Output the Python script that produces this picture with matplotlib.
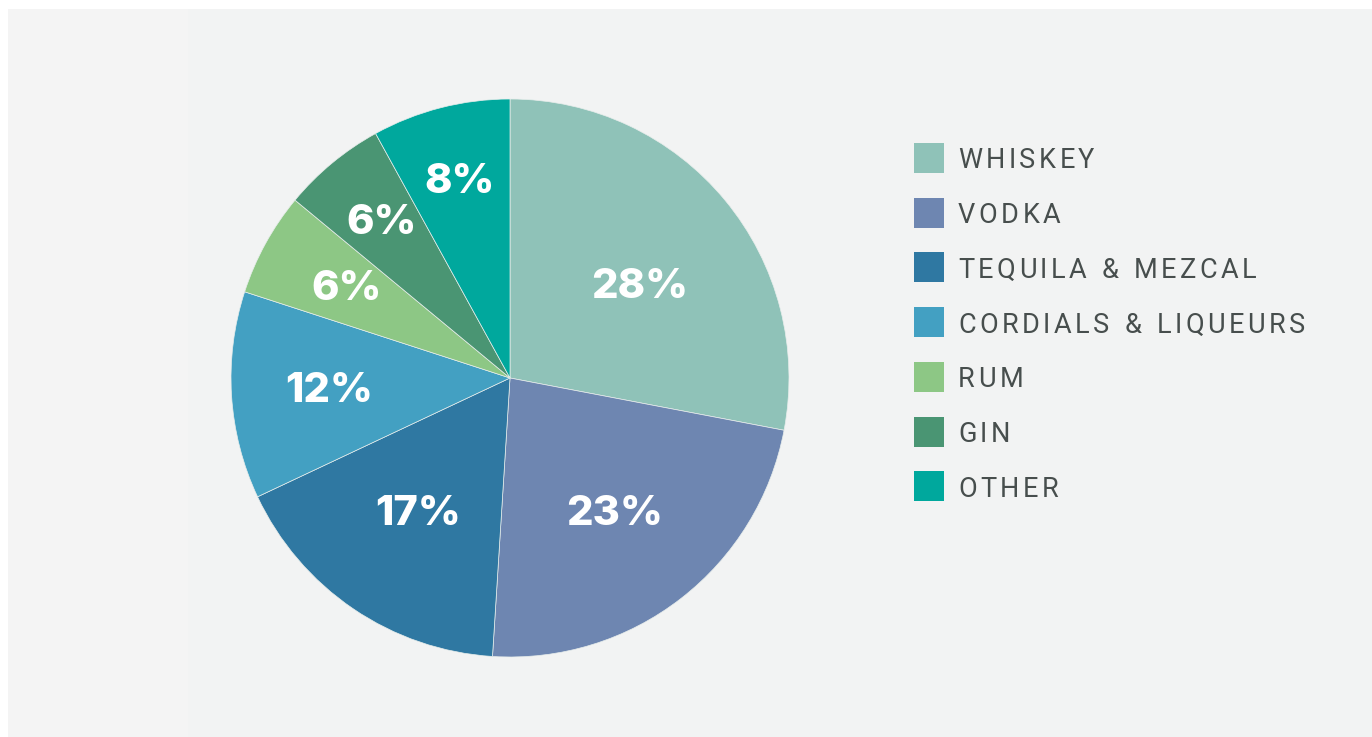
import numpy as np
import matplotlib.pyplot as plt
from matplotlib.patches import Rectangle

labels = ['WHISKEY', 'VODKA', 'TEQUILA & MEZCAL', 'CORDIALS & LIQUEURS', 'RUM', 'GIN', 'OTHER']
shares = [28, 23, 17, 12, 6, 6, 8]
colors = ['#8fc2b8', '#6e86b1', '#2f78a2', '#43a0c2', '#8dc785', '#4a9573', '#00a89d']

# how far out each percent label sits (fraction of radius)
pct_radius = [0.58, 0.61, 0.585, 0.65, 0.67, 0.725, 0.73]

W, H = 1372, 737
fig = plt.figure(figsize=(W / 100, H / 100), dpi=100, facecolor='white')
fig.add_artist(Rectangle((8 / W, 0), 1 - 8 / W, 1 - 9 / H, transform=fig.transFigure,
                         facecolor='#f2f3f3', edgecolor='none', zorder=0))
fig.add_artist(Rectangle((8 / W, 0), 180 / W, 1 - 9 / H, transform=fig.transFigure,
                         facecolor='#f4f4f4', edgecolor='none', zorder=0))

cx, cy, r = 510, 378, 279
ax = fig.add_axes([(cx - r) / W, (H - cy - r) / H, 2 * r / W, 2 * r / H])
wedges, texts, autotexts = ax.pie(
    shares, colors=colors, startangle=90, counterclock=False, autopct='%.0f%%',
    wedgeprops=dict(linewidth=0.5, edgecolor='#e8eeec'),
    textprops=dict(color='white', fontsize=30, fontweight=800, family='Inter'))
for w, t, rr in zip(wedges, autotexts, pct_radius):
    a = np.deg2rad((w.theta1 + w.theta2) / 2)
    t.set_position((rr * np.cos(a), rr * np.sin(a) - 0.004))
# the big slice's label sits a bit lower in the original
autotexts[0].set_position((0.465, 0.325))
ax.set_xlim(-1, 1)
ax.set_ylim(-1, 1)
ax.axis('off')

# legend, drawn by hand to get the letter spacing
renderer = fig.canvas.get_renderer()
fs = 19.5
track = 3.5
space = 0.3 * fs * 100 / 72
y0, step = 158, 54.7
for i, (lab, c) in enumerate(zip(labels, colors)):
    yc = y0 + i * step
    fig.add_artist(Rectangle((914 / W, 1 - (yc + 15) / H), 30 / W, 30 / H,
                             transform=fig.transFigure, facecolor=c, edgecolor='none'))
    x = 958
    for ch in lab:
        if ch == ' ':
            x += space + track
            continue
        t = fig.text(x / W, 1 - (yc + 10.5) / H, ch, fontsize=fs, family='Roboto',
                     color='#474e4d', ha='left', va='baseline')
        x += t.get_window_extent(renderer).width + track

fig.savefig('out.png', dpi=100, facecolor='white')
